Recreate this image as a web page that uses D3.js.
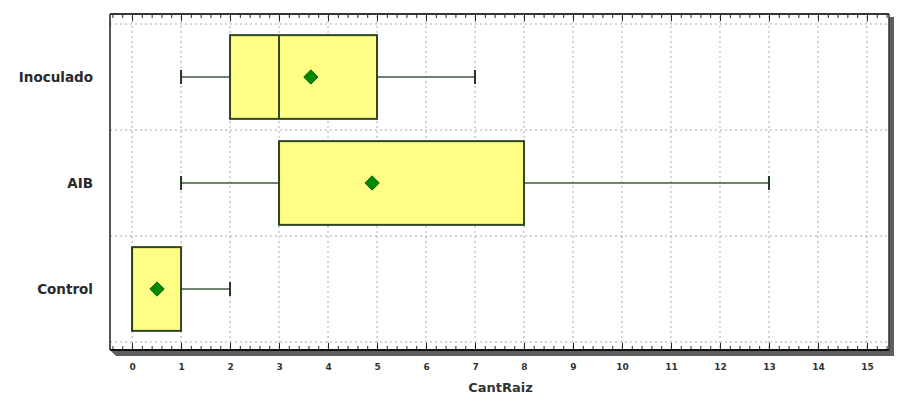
<!DOCTYPE html>
<html>
<head>
<meta charset="utf-8">
<script src="https://cdn.jsdelivr.net/npm/d3@7"></script>
<style>
  body { margin: 0; background: #fff; }
  svg { display: block; font-family: "DejaVu Sans", Verdana, sans-serif; }
  .grid line { stroke: #aaa; stroke-dasharray: 2,3; stroke-width: 1; }
  .ticks path.domain { display: none; }
  .ticks line { stroke: #222; }
  .xlabels path.domain { display: none; }
  .xlabels text { font-family: "DejaVu Sans", sans-serif; font-size: 9px; font-weight: bold; fill: #333; }
</style>
</head>
<body>
<div class="chart"></div>
<script>
// data
const categories = ['Inoculado', 'AIB', 'Control'];
const whiskerLow = [1, 1, 0];
const q1 = [2, 3, 0];
const median = [3, 3, 0];
const q3 = [5, 8, 1];
const whiskerHigh = [7, 13, 2];
const means = [3.65, 4.9, 0.51];
const xTicks = d3.range(0, 16);

const W = 897, H = 396;
const frame = { left: 110, right: 889, top: 14, bottom: 350 };

let svg = d3.select('.chart').append('svg').attr('width', W).attr('height', H);

let x = d3.scaleLinear().domain([-0.45, 15.45]).range([frame.left, frame.right]);
let y = d3.scaleBand().domain(categories).range([24, 342]);

// shadow (3d look) right and bottom
svg.append('path')
  .attr('d', `M${frame.right},${frame.top + 3} L${frame.right + 5},${frame.top + 3} L${frame.right + 5},${frame.bottom + 6} L${frame.left + 6},${frame.bottom + 6} L${frame.left},${frame.bottom} L${frame.right},${frame.bottom} Z`)
  .attr('fill', '#5e5e5e');

svg.append('rect')
  .attr('x', frame.left).attr('y', frame.top)
  .attr('width', frame.right - frame.left).attr('height', frame.bottom - frame.top)
  .attr('fill', '#fff');

// grid
let grid = svg.append('g').classed('grid', true);
grid.selectAll('.v').data(xTicks).enter().append('line')
  .attr('x1', d => x(d)).attr('x2', d => x(d))
  .attr('y1', frame.top + 2).attr('y2', frame.bottom);
let hLines = categories.map(c => y(c)).concat([y.range()[1]]);
grid.selectAll('.h').data(hLines).enter().append('line')
  .attr('x1', frame.left).attr('x2', frame.right)
  .attr('y1', d => d).attr('y2', d => d);

// ticks: top (pointing down) and bottom (pointing up)
let minor = d3.range(-0.4, 15.45, 0.2).filter(v => Math.abs(v - Math.round(v)) > 0.01);
function tickRow(yPos, dir) {
  let gen = dir > 0 ? d3.axisBottom(x) : d3.axisTop(x);
  svg.append('g').classed('ticks', true)
    .attr('transform', `translate(0,${yPos})`)
    .call(gen.tickValues(xTicks).tickSize(7).tickFormat(''));
  svg.append('g').classed('ticks', true)
    .attr('transform', `translate(0,${yPos})`)
    .call(gen.tickValues(minor).tickSize(4).tickFormat(''));
}
tickRow(frame.top, 1);
tickRow(frame.bottom, -1);

// frame lines
svg.append('line').attr('x1', frame.left).attr('x2', frame.right)
  .attr('y1', frame.top).attr('y2', frame.top).attr('stroke', '#333').attr('stroke-width', 2);
svg.append('line').attr('x1', frame.left).attr('x2', frame.left)
  .attr('y1', frame.top).attr('y2', frame.bottom).attr('stroke', '#555').attr('stroke-width', 2);
svg.append('line').attr('x1', frame.right).attr('x2', frame.right)
  .attr('y1', frame.top).attr('y2', frame.bottom).attr('stroke', '#333').attr('stroke-width', 1.5);
svg.append('line').attr('x1', frame.left).attr('x2', frame.right)
  .attr('y1', frame.bottom).attr('y2', frame.bottom).attr('stroke', '#111').attr('stroke-width', 2);

// x labels
svg.append('g').classed('xlabels', true)
  .attr('transform', `translate(0,${frame.bottom + 9})`)
  .call(d3.axisBottom(x).tickValues(xTicks).tickSize(0).tickPadding(5));

svg.append('text')
  .attr('x', (x(0) + x(15)) / 2 + 1).attr('y', 392)
  .attr('text-anchor', 'middle')
  .style('font-size', '13px').style('font-weight', 'bold').style('fill', '#333')
  .text('CantRaiz');

// y labels
svg.selectAll('.ylab').data(categories).enter().append('text')
  .attr('x', 93)
  .attr('y', d => y(d) + y.bandwidth() / 2)
  .attr('dy', '0.35em')
  .attr('text-anchor', 'end')
  .style('font-size', '13.5px').style('font-weight', 'bold').style('fill', '#2a2a2a')
  .text(d => d);

// boxes
let boxH = y.bandwidth() * 0.79;
let capH = 14;
let boxes = svg.selectAll('.box').data(categories).enter().append('g')
  .attr('transform', d => `translate(0,${y(d) + y.bandwidth() / 2})`);

boxes.append('line')
  .attr('x1', (d, i) => x(whiskerLow[i])).attr('x2', (d, i) => x(q1[i]))
  .attr('stroke', '#3d5a3d').attr('stroke-width', 1.5);
boxes.append('line')
  .attr('x1', (d, i) => x(q3[i])).attr('x2', (d, i) => x(whiskerHigh[i]))
  .attr('stroke', '#3d5a3d').attr('stroke-width', 1.5);
boxes.append('line')
  .attr('x1', (d, i) => x(whiskerLow[i])).attr('x2', (d, i) => x(whiskerLow[i]))
  .attr('y1', -capH / 2).attr('y2', capH / 2)
  .attr('stroke', '#223a22').attr('stroke-width', 2);
boxes.append('line')
  .attr('x1', (d, i) => x(whiskerHigh[i])).attr('x2', (d, i) => x(whiskerHigh[i]))
  .attr('y1', -capH / 2).attr('y2', capH / 2)
  .attr('stroke', '#223a22').attr('stroke-width', 2);

boxes.append('rect')
  .attr('x', (d, i) => x(q1[i]))
  .attr('width', (d, i) => x(q3[i]) - x(q1[i]))
  .attr('y', -boxH / 2).attr('height', boxH)
  .attr('fill', '#ffff85').attr('stroke', '#2f4720').attr('stroke-width', 2);
boxes.append('line')
  .attr('x1', (d, i) => x(median[i])).attr('x2', (d, i) => x(median[i]))
  .attr('y1', -boxH / 2).attr('y2', boxH / 2)
  .attr('stroke', '#2f4720').attr('stroke-width', 2);

boxes.append('path')
  .attr('d', d3.symbol().type(d3.symbolDiamond2).size(130))
  .attr('transform', (d, i) => `translate(${x(means[i])},0)`)
  .attr('fill', '#008a00').attr('stroke', '#006400').attr('stroke-width', 1);
</script>
</body>
</html>
